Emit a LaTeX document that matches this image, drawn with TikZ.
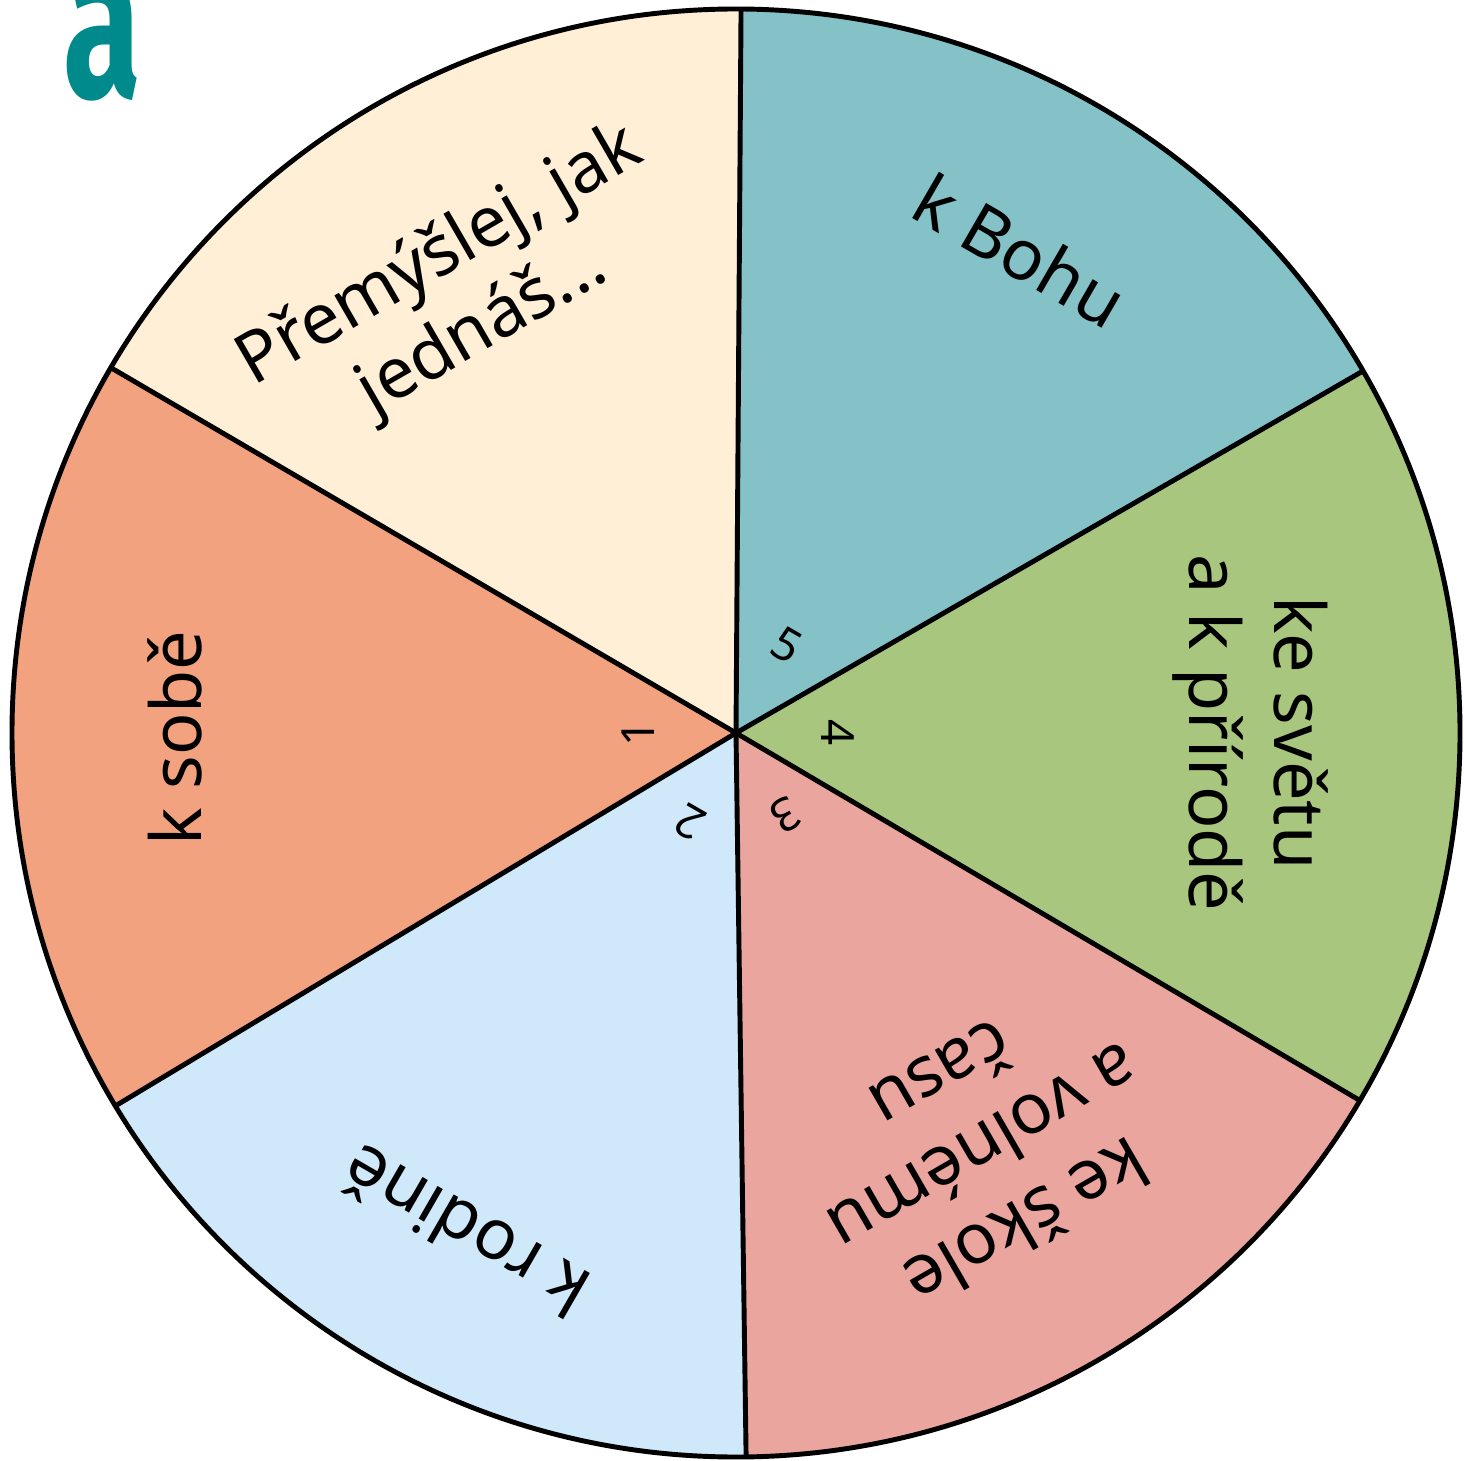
\documentclass[tikz,border=0pt]{standalone}
\usepackage{fontspec}
\setmainfont{Noto Sans}
\newfontfamily\velke{Fira Sans}
\usetikzlibrary{calc}
\definecolor{bohu}{HTML}{84C2C7}
\definecolor{svet}{HTML}{A9C67E}
\definecolor{skola}{HTML}{EBA59F}
\definecolor{rodina}{HTML}{D0E9FA}
\definecolor{sebe}{HTML}{F3A27F}
\definecolor{premysl}{HTML}{FEEFD6}
\definecolor{pismeno}{HTML}{008A8C}

\begin{document}
\begin{tikzpicture}[napis/.style = {font = \fontsize{20}{24.2}\selectfont, align = center, inner sep = 0pt},
	cislo/.style = {font = \fontsize{13}{13}\selectfont, inner sep = 0pt}]
	\useasboundingbox (0,0) rectangle (14.64,14.60);
	\coordinate (c) at (7.36,7.27);
	\fill [bohu] (c) -- ++(30:7.24) arc (30:89.6:7.24) -- cycle;
	\fill [svet] (c) -- ++(-30.5:7.24) arc (-30.5:30:7.24) -- cycle;
	\fill [skola] (c) -- ++(-89.2:7.24) arc (-89.2:-30.5:7.24) -- cycle;
	\fill [rodina] (c) -- ++(-149:7.24) arc (-149:-89.2:7.24) -- cycle;
	\fill [sebe] (c) -- ++(149.7:7.24) arc (149.7:211:7.24) -- cycle;
	\fill [premysl] (c) -- ++(89.6:7.24) arc (89.6:149.7:7.24) -- cycle;
	\foreach \uhel in {89.6, 30, -30.5, -89.2, -149, 149.7}
		\draw [line width = 1.4pt] (c) -- ++(\uhel:7.24);
	\draw [line width = 1.4pt] (c) circle (7.24);
	\node [napis, rotate = -30] (bohu) at ($(c)+(59.5:5.60)$) {k Bohu};
	\node [napis, rotate = -90] (svet) at ($(c)+(0:5.14)$) {ke světu\\a k přírodě};
	\node [napis, rotate = 210] (skola) at ($(c)+(-59.2:4.86)$) {ke škole\\a volnému\\času};
	\node [napis, rotate = 150] (rodina) at ($(c)+(241.5:5.68)$) {k rodině};
	\node [napis, rotate = 90] (sebe) at ($(c)+(180.5:5.61)$) {k sobě};
	\node [napis, rotate = 30] (premysl) at ($(c)+(122:5.18)$) {Přemýšlej, jak\\jednáš...};
	\node [cislo, rotate = 90] (c1) at ($(c)+(180:0.98)$) {1};
	\node [cislo, rotate = 150] (c2) at ($(c)+(242.7:1.00)$) {2};
	\node [cislo, rotate = 210] (c3) at ($(c)+(-59:0.96)$) {3};
	\node [cislo, rotate = -90] (c4) at ($(c)+(0:1.02)$) {4};
	\node [cislo, rotate = -30] (c5) at ($(c)+(60:1.02)$) {5};
	\node [anchor = base west, inner sep = 0pt, xscale = 0.65, text = pismeno,
		font = \velke\bfseries\fontsize{62}{62}\selectfont] (a) at (0.63,13.62) {a};
\end{tikzpicture}
\end{document}
